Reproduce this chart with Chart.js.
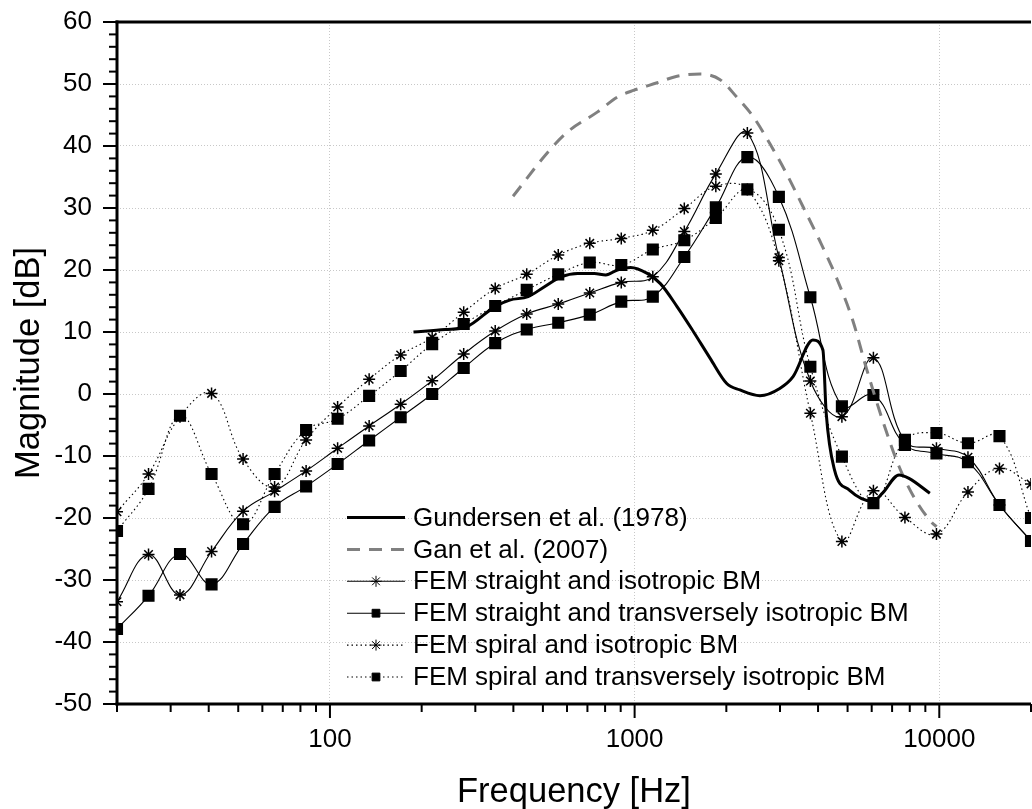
<html>
<head>
<script src="https://cdn.jsdelivr.net/npm/chart.js"></script>
<style>
  body { margin: 0; overflow: hidden; background: #fff; }
</style>
</head>
<body>
<canvas id="myChart" width="1040" height="809"></canvas>
<script>
// FEM frequencies (Hz)
const freq = [20, 25.38, 32.2, 40.87, 51.86, 65.81, 83.51, 105.97, 134.47, 170.64,
  216.54, 274.78, 348.68, 442.46, 561.46, 712.47, 904.09, 1147.2, 1455.8, 1847.3,
  2344.2, 2974.7, 3774.7, 4789.9, 6078.2, 7713, 9787.6, 12420, 15760, 20000];

const straightIso = [-33.5, -25.9, -32.4, -25.4, -18.9, -15.7, -12.4, -8.75, -5.15, -1.66,
  2.15, 6.45, 10.15, 12.9, 14.5, 16.3, 18.0, 18.9, 26.2, 35.5,
  42.1, 22.0, 2.1, -3.65, 5.85, -7.6, -8.75, -10.2, -17.9, -23.7];
const straightTrans = [-37.9, -32.55, -25.8, -30.7, -24.2, -18.2, -14.9, -11.3, -7.5, -3.75,
  0.0, 4.2, 8.2, 10.4, 11.5, 12.8, 14.9, 15.7, 22.1, 30.1,
  38.2, 31.8, 15.6, -2.0, -0.16, -8.2, -9.6, -11.0, -17.9, -23.7];
const spiralIso = [-19.0, -12.9, -3.65, 0.1, -10.5, -15.0, -7.4, -2.1, 2.37, 6.29,
  9.13, 13.2, 17.0, 19.3, 22.4, 24.3, 25.1, 26.4, 29.9, 33.5,
  33.0, 21.5, -3.1, -23.8, -15.6, -19.9, -22.6, -15.8, -12.0, -14.5];
const spiralTrans = [-22.1, -15.3, -3.5, -12.9, -21.0, -12.9, -5.8, -4.0, -0.3, 3.7,
  8.05, 11.3, 14.2, 16.8, 19.3, 21.2, 20.8, 23.3, 24.8, 28.4,
  33.0, 26.5, 4.4, -10.1, -17.6, -7.4, -6.3, -7.95, -6.8, -20.0];

// Gundersen et al. (1978)
const gunF = [188, 239, 281, 348, 389, 447, 506, 574, 650, 737, 804, 878, 970, 1100, 1215,
  1378, 1562, 1770, 2006, 2217, 2577, 2995, 3312, 3848, 4150, 4254, 4527, 5067, 6040,
  6511, 7378, 7953, 9311];
const gunV = [10.0, 10.4, 10.85, 14.1, 15.15, 15.7, 17.3, 18.9, 19.45, 19.45, 19.2, 20.0, 20.4, 19.45, 17.8,
  14.1, 10.0, 5.75, 1.7, 0.65, -0.27, 0.9, 2.8, 8.7, 7.1, -3.1, -12.2, -15.5, -17.3,
  -16.0, -13.05, -13.6, -16.0];

// Gan et al. (2007)
const ganF = [399, 519, 603, 756, 878, 996, 1186, 1378, 1642, 1908, 2163, 2453, 2778, 3148,
  3571, 4045, 4585, 5198, 5744, 6511, 7378, 8364, 9480, 9800];
const ganV = [31.9, 39.0, 42.3, 45.5, 47.9, 49.0, 50.2, 51.25, 51.6, 50.7, 47.9, 44.7, 40.4, 35.6,
  30.2, 24.8, 18.9, 11.9, 4.4, -4.2, -11.7, -17.1, -20.8, -21.4];

const labels = ['Gundersen et al. (1978)', 'Gan et al. (2007)',
  'FEM straight and isotropic BM', 'FEM straight and transversely isotropic BM',
  'FEM spiral and isotropic BM', 'FEM spiral and transversely isotropic BM'];

const yTicks = [-50, -40, -30, -20, -10, 0, 10, 20, 30, 40, 50, 60];
const xTicks = [100, 1000, 10000];

const FONT = '"Liberation Sans", Arial, sans-serif';

function pts(xs, ys) {
  return xs.map((x, i) => ({x: x, y: ys[i]}));
}

const femLine = {borderColor: '#000', borderWidth: 1.1, tension: 0.4,
  pointBorderColor: '#000', pointBackgroundColor: '#000', pointBorderWidth: 1.5};

const data = {
  datasets: [
    {label: labels[0], data: pts(gunF, gunV), borderColor: '#000', borderWidth: 3,
      pointRadius: 0, cubicInterpolationMode: 'monotone'},
    {label: labels[1], data: pts(ganF, ganV), borderColor: '#808080', borderWidth: 3,
      borderDash: [13, 9], pointRadius: 0, cubicInterpolationMode: 'monotone'},
    Object.assign({label: labels[2], data: pts(freq, straightIso), pointStyle: 'star', pointRadius: 6}, femLine),
    Object.assign({label: labels[3], data: pts(freq, straightTrans), pointStyle: 'rect', pointRadius: 7.5}, femLine),
    Object.assign({label: labels[4], data: pts(freq, spiralIso), pointStyle: 'star', pointRadius: 6, borderDash: [1.5, 3]}, femLine),
    Object.assign({label: labels[5], data: pts(freq, spiralTrans), pointStyle: 'rect', pointRadius: 7.5, borderDash: [1.5, 3]}, femLine)
  ]
};

// axes lines, minor ticks, titles, legend
const decor = {
  id: 'decor',
  afterDraw(chart) {
    const ctx = chart.ctx, a = chart.chartArea;
    const xs = chart.scales.x, ys = chart.scales.y;
    const line = (x1, y1, x2, y2) => { ctx.beginPath(); ctx.moveTo(x1, y1); ctx.lineTo(x2, y2); ctx.stroke(); };
    ctx.save();
    ctx.strokeStyle = '#000';
    ctx.lineWidth = 2;
    [10, 100, 1000, 10000].forEach(d => {
      for (let m = 1; m < 10; m++) {
        const v = d * m;
        if (v < 20 || v > 20000) continue;
        const px = xs.getPixelForValue(v);
        line(px, a.bottom, px, a.bottom + (m === 1 ? 14 : 8));
      }
    });
    for (let v = -50; v <= 60; v += 2) {
      const py = ys.getPixelForValue(v);
      line(a.left - (v % 10 === 0 ? 14 : 8), py, a.left, py);
    }
    ctx.lineWidth = 3;
    line(a.left, a.top - 1.5, a.left, a.bottom + 1.5);
    line(a.left - 1.5, a.bottom, a.right, a.bottom);
    line(a.left - 1.5, a.top, a.right, a.top);

    ctx.fillStyle = '#000';
    ctx.font = '34.5px ' + FONT;
    ctx.textAlign = 'center';
    ctx.textBaseline = 'middle';
    ctx.fillText('Frequency [Hz]', (a.left + a.right) / 2, 792);
    ctx.save();
    ctx.translate(29, (a.top + a.bottom) / 2);
    ctx.rotate(-Math.PI / 2);
    ctx.fillText('Magnitude [dB]', 0, 0);
    ctx.restore();

    // legend
    ctx.font = '26px ' + FONT;
    ctx.textAlign = 'left';
    chart.data.datasets.forEach((ds, k) => {
      const y = 517.5 + k * 31.9;
      ctx.strokeStyle = ds.borderColor;
      ctx.lineWidth = ds.borderWidth;
      ctx.setLineDash(ds.borderDash || []);
      line(347, y, 405, y);
      ctx.setLineDash([]);
      if (ds.pointRadius) {
        ctx.fillStyle = '#000';
        ctx.strokeStyle = '#000';
        ctx.lineWidth = 1;
        Chart.helpers.drawPoint(ctx, {pointStyle: ds.pointStyle, radius: 5.5, borderWidth: 1.2}, 376, y);
      }
      ctx.fillStyle = '#000';
      ctx.fillText(ds.label, 413, y + 1);
    });
    ctx.restore();
  }
};

new Chart(document.getElementById('myChart'), {
  type: 'line',
  data: data,
  options: {
    responsive: false,
    animation: false,
    devicePixelRatio: 1,
    layout: {padding: {top: 22, right: 4, left: 0, bottom: 0}},
    plugins: {legend: {display: false}, tooltip: {enabled: false}},
    scales: {
      x: {
        type: 'logarithmic', min: 20, max: 20000,
        afterBuildTicks: s => { s.ticks = xTicks.map(v => ({value: v})); },
        afterFit: s => { s.height = 105; s.paddingLeft = 0; s.paddingRight = 0; },
        grid: {color: '#c8c8c8', lineWidth: 1, drawTicks: false},
        border: {display: false, dash: [1, 2]},
        ticks: {color: '#000', font: {size: 26, family: FONT}, padding: 20, autoSkip: false, maxRotation: 0,
          callback: v => String(v)}
      },
      y: {
        min: -50, max: 60,
        afterBuildTicks: s => { s.ticks = yTicks.map(v => ({value: v})); },
        afterFit: s => { s.width = 117; s.paddingTop = 0; s.paddingBottom = 0; },
        grid: {color: '#c8c8c8', lineWidth: 1, drawTicks: false},
        border: {display: false, dash: [1, 2]},
        ticks: {color: '#000', font: {size: 26, family: FONT}, padding: 25}
      }
    }
  },
  plugins: [decor]
});
</script>
</body>
</html>
